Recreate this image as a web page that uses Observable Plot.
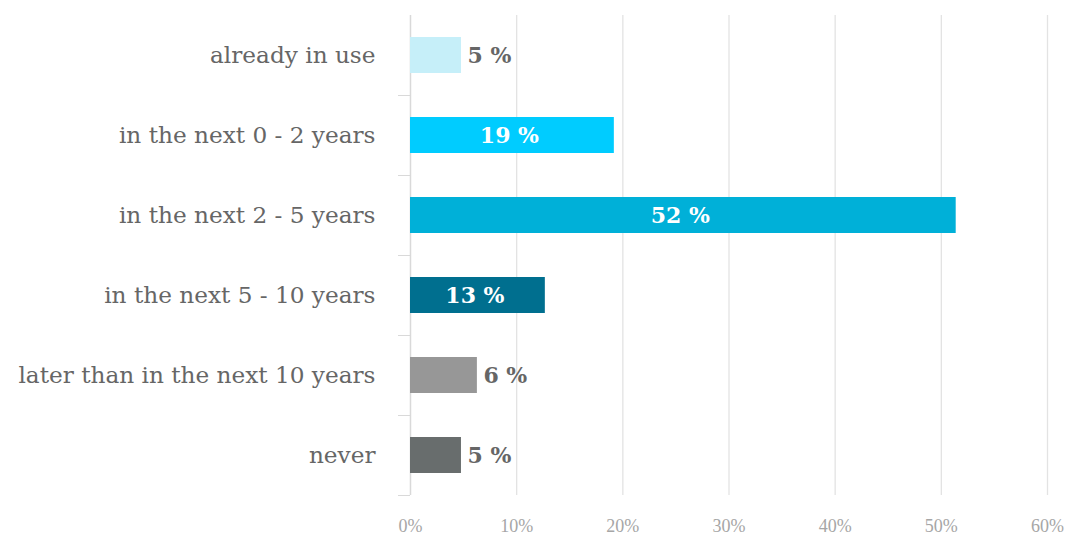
<!DOCTYPE html>
<html>
<head>
<meta charset="utf-8">
<script src="https://cdn.jsdelivr.net/npm/d3@7"></script>
<script src="https://cdn.jsdelivr.net/npm/@observablehq/plot@0.6"></script>
<style>
  html, body { margin: 0; padding: 0; background: #fff; }
  #chart svg { display: block; }
</style>
</head>
<body>
<div id="chart"></div>
<script>
const categories = [
  "already in use",
  "in the next 0 - 2 years",
  "in the next 2 - 5 years",
  "in the next 5 - 10 years",
  "later than in the next 10 years",
  "never"
];
const values = [4.8, 19.2, 51.4, 12.7, 6.3, 4.8];
const valueLabels = ["5 %", "19 %", "52 %", "13 %", "6 %", "5 %"];
const barColors = ["#c6eff9", "#00ccff", "#00b0d8", "#006f8f", "#979797", "#686d6d"];
const labelInside = [false, true, true, true, false, false];
const xTicks = [0, 10, 20, 30, 40, 50, 60];

const data = categories.map((c, i) => ({
  category: c,
  value: values[i],
  label: valueLabels[i],
  color: barColors[i],
  inside: labelInside[i]
}));

const font = "'DejaVu Serif', 'Liberation Serif', serif";

const chart = Plot.plot({
  width: 1067,
  height: 539,
  marginLeft: 410,
  marginRight: 20,
  marginTop: 15,
  marginBottom: 44,
  style: { fontFamily: font, background: "#fff" },
  x: { domain: [0, 60] },
  y: { domain: categories, paddingInner: 0.55, paddingOuter: 0.275, label: null },
  color: { type: "identity" },
  marks: [
    Plot.gridX(xTicks, { stroke: "#e3e3e3", strokeOpacity: 1, strokeWidth: 1.3 }),
    Plot.ruleX([0], { stroke: "#d9d9d9", strokeWidth: 1.3 }),
    Plot.barX(data, { x: "value", y: "category", fill: "color", inset: 0 }),
    Plot.text(data.filter(d => !d.inside), {
      x: "value", y: "category", text: "label",
      textAnchor: "start", dx: 6, fill: "#666666",
      fontSize: 22, fontWeight: "bold"
    }),
    Plot.text(data.filter(d => d.inside), {
      x: d => d.value / 2, y: "category", text: "label",
      textAnchor: "middle", dx: -3, fill: "#ffffff",
      fontSize: 22, fontWeight: "bold"
    }),
    Plot.axisY({
      tickSize: 0, tickPadding: 35, fontSize: 23.2, fill: "#666666", label: null
    }),
    Plot.axisY({
      tickSize: 12, text: null, dy: 40, stroke: "#d9d9d9", label: null
    }),
    Plot.axisX(xTicks, {
      tickSize: 0, tickPadding: 24, fontSize: 18, fill: "#a6a6a6",
      fontFamily: "'Liberation Serif', serif",
      tickFormat: d => d + "%", label: null
    })
  ]
});

document.getElementById("chart").appendChild(chart);
</script>
</body>
</html>
